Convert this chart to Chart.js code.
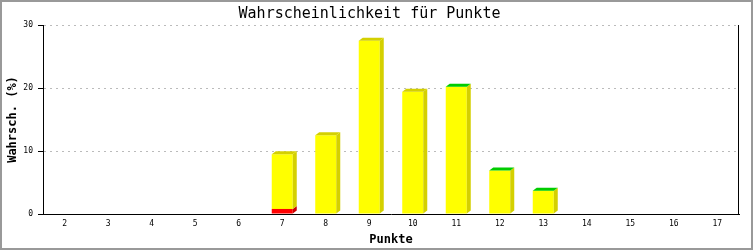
<!DOCTYPE html>
<html>
<head>
<meta charset="utf-8">
<script src="https://cdn.jsdelivr.net/npm/chart.js@4/dist/chart.umd.min.js"></script>
<style>
html,body{margin:0;padding:0;background:#fff;}
#wrap{position:relative;width:753px;height:250px;}
canvas{display:block;}
</style>
</head>
<body>
<div id="wrap"><canvas id="c" width="753" height="250"></canvas></div>
<script>
// ---- data ----
const punkte = ['2','3','4','5','6','7','8','9','10','11','12','13','14','15','16','17'];
const anteilRot = [0,0,0,0,0,0.8,0,0,0,0,0,0,0,0,0,0];
const anteilGelb = [0,0,0,0,0,8.7,12.5,27.5,19.4,20.2,6.9,3.7,0,0,0,0];
const gruenOben = ['11','12','13'];
const yTicks = [0,10,20,30];

const titleText = 'Wahrscheinlichkeit für Punkte';
const xTitle = 'Punkte';
const yTitle = 'Wahrsch. (%)';

const MONO = '"DejaVu Sans Mono", "Liberation Mono", monospace';
const DX = 4, DY = 3;
const sideColors = ['#CC0000', '#D4D000'];

const frame = {
  id: 'frame',
  beforeDraw(chart) {
    const ctx = chart.ctx;
    ctx.save();
    ctx.fillStyle = '#fff';
    ctx.fillRect(0, 0, chart.width, chart.height);
    ctx.restore();
  },
  afterDraw(chart) {
    const ctx = chart.ctx, a = chart.chartArea;
    ctx.save();
    ctx.strokeStyle = '#000';
    ctx.lineWidth = 1;
    ctx.beginPath();
    ctx.moveTo(Math.round(a.right) - 0.5, a.top);
    ctx.lineTo(Math.round(a.right) - 0.5, a.bottom);
    ctx.stroke();
    ctx.strokeStyle = '#999';
    ctx.lineWidth = 2;
    ctx.strokeRect(1, 1, chart.width - 2, chart.height - 2);
    ctx.restore();
  }
};

const bars3d = {
  id: 'bars3d',
  afterDatasetsDraw(chart) {
    const ctx = chart.ctx;
    ctx.save();
    const n = chart.data.labels.length;
    for (let i = 0; i < n; i++) {
      let topEl = null;
      chart.data.datasets.forEach((ds, d) => {
        const v = ds.data[i];
        if (!v) return;
        const el = chart.getDatasetMeta(d).data[i];
        const p = el.getProps(['x', 'y', 'base', 'width'], true);
        const r = p.x + p.width / 2;
        ctx.fillStyle = sideColors[d];
        ctx.beginPath();
        ctx.moveTo(r, p.y);
        ctx.lineTo(r + DX, p.y - DY);
        ctx.lineTo(r + DX, p.base - DY);
        ctx.lineTo(r, p.base);
        ctx.closePath();
        ctx.fill();
        topEl = {p, d};
      });
      if (topEl) {
        const p = topEl.p;
        const l = p.x - p.width / 2, r = p.x + p.width / 2;
        ctx.fillStyle = gruenOben.includes(chart.data.labels[i]) ? '#00CC00' : sideColors[topEl.d];
        ctx.beginPath();
        ctx.moveTo(l, p.y);
        ctx.lineTo(l + DX, p.y - DY);
        ctx.lineTo(r + DX, p.y - DY);
        ctx.lineTo(r, p.y);
        ctx.closePath();
        ctx.fill();
      }
    }
    ctx.restore();
  }
};

new Chart(document.getElementById('c'), {
  type: 'bar',
  data: {
    labels: punkte,
    datasets: [
      { label: 'rot', data: anteilRot, backgroundColor: '#FF0000', borderWidth: 0,
        barPercentage: 0.483, categoryPercentage: 1 },
      { label: 'gelb', data: anteilGelb, backgroundColor: '#FFFF00', borderWidth: 0,
        barPercentage: 0.483, categoryPercentage: 1 }
    ]
  },
  options: {
    responsive: false,
    animation: false,
    events: [],
    layout: { padding: { top: 0, left: 0, right: 14, bottom: 0 } },
    plugins: {
      legend: { display: false },
      tooltip: { enabled: false },
      title: {
        display: true,
        text: titleText,
        color: '#000',
        font: { family: MONO, size: 15, weight: 'normal', lineHeight: 1.2 },
        padding: { top: 5, bottom: 2 }
      }
    },
    scales: {
      x: {
        stacked: true,
        afterFit(s) { s.height = 36; },
        grid: { display: false, drawTicks: false },
        border: { display: true, color: '#000', width: 1 },
        ticks: { color: '#000', font: { family: MONO, size: 8 }, padding: 5, maxRotation: 0, autoSkip: false },
        title: { display: true, text: xTitle, color: '#000',
          font: { family: MONO, size: 12, weight: 'bold', lineHeight: 1.2 }, padding: { top: 0, bottom: 3 } }
      },
      y: {
        stacked: true,
        min: 0, max: 30,
        afterFit(s) { s.width = 43; },
        afterBuildTicks(s) { s.ticks = yTicks.map(v => ({ value: v })); },
        grid: {
          color: ctx => (ctx.tick && ctx.tick.value === 0) ? 'rgba(0,0,0,0)' : '#BBBBBB',
          tickColor: '#000', tickLength: 5, drawTicks: true
        },
        border: { display: true, color: '#000', width: 1, dash: [2, 4] },
        ticks: { color: '#000', font: { family: MONO, size: 8 }, padding: 5 },
        title: { display: true, text: yTitle, color: '#000',
          font: { family: MONO, size: 12, weight: 'bold', lineHeight: 1.2 }, padding: { top: 6, bottom: 0 } }
      }
    }
  },
  plugins: [frame, bars3d]
});
</script>
</body>
</html>
